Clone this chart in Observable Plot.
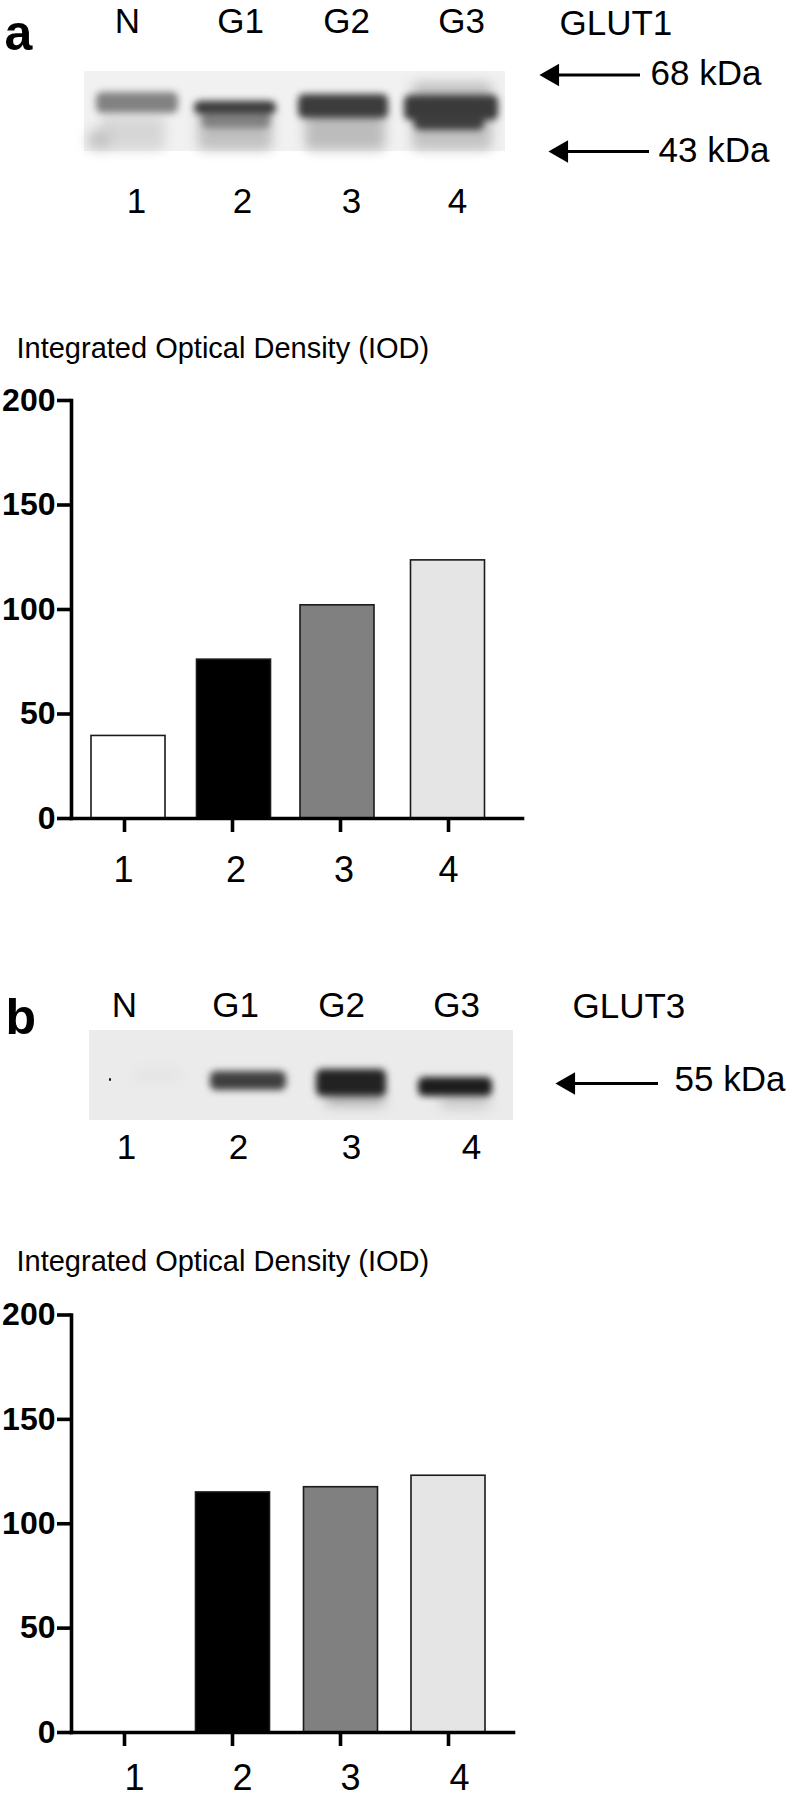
<!DOCTYPE html>
<html>
<head>
<meta charset="utf-8">
<script src="https://cdn.jsdelivr.net/npm/d3@7"></script>
<script src="https://cdn.jsdelivr.net/npm/@observablehq/plot@0.6"></script>
<style>
html,body{margin:0;padding:0;background:#fff;overflow:hidden}
svg{display:block}
</style>
</head>
<body>
<div id="root"></div>
<script>
const FONT = '"Liberation Sans", Arial, sans-serif';

// Bar chart values
const lanes = ["1", "2", "3", "4"];
const glut1Iod = [39.5, 76, 102, 123.5];
const glut3Iod = [0, 115, 117.5, 123];
const barFills = ["#ffffff", "#000000", "#808080", "#e5e5e5"];
const yTicks = [0, 50, 100, 150, 200];
const iodTitle = "Integrated Optical Density (IOD)";

// Blot annotation text
const groupsBlot = ["N", "G1", "G2", "G3"];
const markersA = ["68 kDa", "43 kDa"];
const markersB = ["55 kDa"];

// Blot band readings: [left, right, top, bottom, grey]
const hazeA = [
  [100,165,116,150,"#d6d6d6"],[88,110,130,150,"#c4c4c4"],
  [198,272,106,150,"#c0c0c0"],[305,385,108,150,"#bcbcbc"],
  [412,492,82,150,"#c2c2c2"]
];
const coreA = [
  [96,178,92,113,"#828282"],[194,276,101,114,"#3a3a3a"],[202,270,113,128,"#808080"],
  [298,388,94,118,"#3c3c3c"],[404,498,95,120,"#3a3a3a"],[414,484,116,130,"#3e3e3e"]
];
const hazeB = [[135,180,1072,1078,"#dedede"],[325,385,1090,1106,"#b4b4b4"],[440,490,1095,1108,"#c8c8c8"]];
const coreB = [
  [210,286,1071,1090,"#3f3f3f"],[316,386,1069,1096,"#222222"],[418,492,1077,1096,"#1c1c1c"]
];
const speckB = [[109,111,1078,1081,"#111111"]];

function blot({top, h, frame, bg, haze, core, speck = [], letter, heads, nums, target, markers}) {
  const rows = a => a.map(([x1, x2, y1, y2, fill]) => ({x1, x2, y1, y2, fill}));
  const band = (a, blur) => Plot.rect(rows(a), {
    x1: "x1", x2: "x2", y1: "y1", y2: "y2", fill: "fill", r: 6, imageFilter: `blur(${blur}px)`
  });
  const txt = (a, o) => Plot.text(a, {x: "x", y: "y", text: "t", fontSize: 35, fill: "#000", lineAnchor: "middle", ...o});
  return Plot.plot({
    width: 786, height: h, margin: 0,
    x: {domain: [0, 786], range: [0, 786], axis: null},
    y: {domain: [top, top + h], range: [0, h], axis: null},
    style: {fontFamily: FONT, background: "#fff", color: "#000"},
    marks: [
      Plot.rect([frame], {x1: "x1", x2: "x2", y1: "y1", y2: "y2", fill: bg}),
      band(haze, 6),
      band(core, 3.5),
      ...(speck.length ? [band(speck, 0.3)] : []),
      txt([letter], {fontSize: 50, fontWeight: "bold", textAnchor: "start", lineAnchor: "bottom"}),
      txt(heads),
      txt(nums),
      txt([target], {textAnchor: "start"}),
      ...markers.flatMap(m => [
        Plot.ruleY([m.y], {x1: m.tip + 10, x2: m.end, stroke: "#000", strokeWidth: 3}),
        Plot.dot([m], {x: m.tip + 13, y: "y", symbol: "triangle", rotate: -90, r: 8.4, fill: "#000", stroke: "none"}),
        txt([{x: m.tx, y: m.ty, t: m.t}], {textAnchor: "start"})
      ])
    ]
  });
}

function chart({h, marginTop, marginBottom, rightEdge, values, shifts, labelShifts, labelDy, titleDy}) {
  const rows = lanes.map((k, i) => ({k, v: values[i], fill: barFills[i]}));
  return Plot.plot({
    width: 786, height: h,
    marginLeft: 71, marginRight: 786 - rightEdge, marginTop, marginBottom,
    style: {fontFamily: FONT, background: "#fff", color: "#000"},
    x: {type: "band", domain: lanes, range: [70, 502], padding: 0, axis: null},
    y: {domain: [0, 200], axis: null},
    marks: [
      ...rows.filter(d => d.v > 0).map(d => {
        const s = shifts[+d.k - 1];
        return Plot.barY([d], {
          x: "k", y: "v", fill: "fill", stroke: "#1a1a1a", strokeWidth: 1.6,
          insetLeft: 17 + s, insetRight: 17 - s
        });
      }),
      Plot.frame({anchor: "left", stroke: "#000", strokeWidth: 3.6}),
      Plot.frame({anchor: "bottom", stroke: "#000", strokeWidth: 3.6}),
      Plot.axisY({
        anchor: "left", ticks: yTicks, tickSize: 14, tickPadding: 2, label: null,
        strokeWidth: 3.6, fontSize: 32, fontWeight: "bold"
      }),
      Plot.axisX({anchor: "bottom", tickSize: 14, tickFormat: () => "", label: null, strokeWidth: 3.6}),
      ...lanes.map((k, i) => Plot.text([k], {
        x: d => d, text: d => d, frameAnchor: "bottom", dy: labelDy,
        dx: labelShifts[i], fontSize: 36, lineAnchor: "middle", fill: "#000"
      })),
      Plot.text([iodTitle], {
        frameAnchor: "top-left", dx: -55, dy: titleDy, fontSize: 29,
        textAnchor: "start", lineAnchor: "middle", fill: "#000"
      })
    ]
  });
}

const root = document.getElementById("root");
root.append(
  blot({
    top: 0, h: 320,
    frame: {x1: 84, x2: 505, y1: 71, y2: 151}, bg: "#f1f1f1",
    haze: hazeA, core: coreA,
    letter: {x: 4, y: 49, t: "a"},
    heads: groupsBlot.map((t, i) => ({t, x: [127, 240, 346, 461][i], y: 21})),
    nums: lanes.map((t, i) => ({t, x: [136, 242, 351, 457][i], y: 201})),
    target: {x: 559, y: 23, t: "GLUT1"},
    markers: [
      {y: 74.5, tip: 539, end: 640, tx: 650, ty: 73, t: markersA[0]},
      {y: 151, tip: 548, end: 649, tx: 658, ty: 150, t: markersA[1]}
    ]
  }),
  chart({
    h: 600, marginTop: 80, marginBottom: 102, rightEdge: 522,
    values: glut1Iod, shifts: [4, 1.5, -3, -0.5], labelShifts: [-1, 3.5, 3.5, 0], labelDy: 52, titleDy: -52
  }),
  blot({
    top: 920, h: 320,
    frame: {x1: 89, x2: 513, y1: 1030, y2: 1120}, bg: "#ebebeb",
    haze: hazeB, core: coreB, speck: speckB,
    letter: {x: 5, y: 1033, t: "b"},
    heads: groupsBlot.map((t, i) => ({t, x: [124, 235, 341, 456][i], y: 1005})),
    nums: lanes.map((t, i) => ({t, x: [126, 238, 351, 471][i], y: 1147})),
    target: {x: 572, y: 1006, t: "GLUT3"},
    markers: [{y: 1083, tip: 555, end: 658, tx: 674, ty: 1079, t: markersB[0]}]
  }),
  chart({
    h: 557, marginTop: 74.5, marginBottom: 65, rightEdge: 513,
    values: glut3Iod, shifts: [0, 0.5, 0.5, 0], labelShifts: [10, 10, 10, 11], labelDy: 46, titleDy: -53.5
  })
);
</script>
</body>
</html>
